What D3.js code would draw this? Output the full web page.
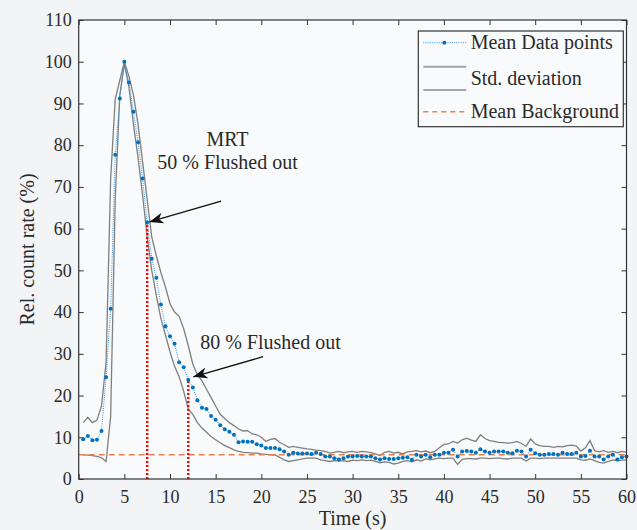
<!DOCTYPE html>
<html>
<head>
<meta charset="utf-8">
<script src="https://cdn.jsdelivr.net/npm/d3@7"></script>
<style>
  html, body { margin: 0; padding: 0; background: #f3f4f5; }
  svg { display: block; font-family: "Liberation Serif", "DejaVu Serif", serif; }
</style>
</head>
<body>
<div id="viz"></div>
<script>
// sampling times (s)
const times = [
  0.5, 1, 1.5, 2, 2.5, 3, 3.5, 4, 4.5, 5,
  5.5, 6, 6.5, 7, 7.5, 8, 8.5, 9, 9.5, 10,
  10.5, 11, 11.5, 12, 12.5, 13, 13.5, 14, 14.5, 15,
  15.5, 16, 16.5, 17, 17.5, 18, 18.5, 19, 19.5, 20,
  20.5, 21, 21.5, 22, 22.5, 23, 23.5, 24, 24.5, 25,
  25.5, 26, 26.5, 27, 27.5, 28, 28.5, 29, 29.5, 30,
  30.5, 31, 31.5, 32, 32.5, 33, 33.5, 34, 34.5, 35,
  35.5, 36, 36.5, 37, 37.5, 38, 38.5, 39, 39.5, 40,
  40.5, 41, 41.5, 42, 42.5, 43, 43.5, 44, 44.5, 45,
  45.5, 46, 46.5, 47, 47.5, 48, 48.5, 49, 49.5, 50,
  50.5, 51, 51.5, 52, 52.5, 53, 53.5, 54, 54.5, 55,
  55.5, 56, 56.5, 57, 57.5, 58, 58.5, 59, 59.5, 60
];

// mean relative count rate (%)
const meanRate = [
  9.5, 10.3, 9.3, 9.4, 11.5, 24.4, 40.8, 77.7, 91.2, 100,
  95, 88, 80.7, 72, 61.5, 52.8, 48.2, 41.8, 36.6, 34.2,
  32.4, 28.0, 26.8, 23.8, 21.9, 18.9, 17.1, 16.8, 15.1, 14.2,
  12.9, 11.9, 11.3, 10.6, 8.8, 9.0, 8.9, 8.9, 8.3, 8.0,
  7.4, 7.4, 7.4, 7.1, 6.6, 5.8, 6.3, 6.1, 6.1, 6.1,
  6.0, 6.3, 6.0, 5.4, 5.4, 5.0, 4.7, 5.0, 5.4, 5.4,
  5.5, 5.4, 5.4, 5.4, 5.0, 4.7, 5.0, 4.8, 4.8, 5.0,
  5.1, 5.2, 4.6, 5.8, 5.4, 5.8, 5.2, 5.8, 5.8, 6.3,
  6.3, 7.0, 5.4, 6.6, 6.7, 6.6, 6.3, 7.1, 6.6, 6.3,
  6.6, 6.6, 6.6, 6.3, 6.2, 6.8, 6.6, 5.4, 7.0, 6.2,
  5.8, 5.8, 6.0, 6.0, 5.8, 6.3, 6.0, 6.0, 6.3, 5.4,
  5.5, 6.8, 5.4, 5.4, 4.7, 5.4, 5.8, 4.7, 5.2, 5.4
];

// mean + std
const upperStd = [
  13.5, 14.8, 13.5, 14.1, 17.5, 28, 72, 91, 95.5, 100,
  96.5, 92, 85, 76, 67, 58, 53.5, 49.5, 46, 42,
  40, 39, 36, 32, 27.5, 25, 23.5, 21.5, 19.5, 17.5,
  15.5, 14.5, 13.5, 12.8, 12, 11.5, 11.6, 10.8, 10.6, 10,
  9.0, 9.5, 9.7, 8.8, 8.2, 7.6, 7.8, 7.6, 7.4, 7.2,
  7.1, 6.9, 6.8, 6.6, 6.2, 6.4, 6.6, 6.3, 6.5, 6.6,
  6.4, 6.6, 6.5, 6.3, 6.0, 5.6, 6.4, 6.6, 6.2, 6.4,
  6.0, 6.5, 6.6, 6.8, 6.5, 6.7, 6.3, 6.6, 7.5, 8.3,
  8.4, 9.0, 8.6, 9.4, 9.8, 9.3, 9.0, 10.6, 9.7, 9.2,
  9.0, 8.8, 8.7, 8.6, 8.7, 9.0, 8.5, 7.8, 9.6, 8.4,
  8.0, 7.8, 7.8, 7.6, 7.8, 7.7, 8.0, 8.1, 7.9, 6.7,
  7.5, 9.2, 6.8, 6.5, 6.8, 6.4, 6.6, 6.3, 6.6, 6.4
];

// mean - std
const lowerStd = [
  5.8, 5.7, 5.6, 5.4, 5.1, 4.2, 15, 67, 92, 99.5,
  94, 85, 77, 68, 58, 50, 44, 38.5, 34.5, 30.5,
  27, 24.5, 21, 16.8, 15.5, 13.5, 12.2, 11.2, 10.2, 9.4,
  8.7, 8.0, 7.5, 7.0, 6.6, 6.4, 6.3, 6.2, 6.2, 6.0,
  5.9, 5.8, 5.75, 5.2, 4.6, 4.2, 4.4, 4.6, 4.8, 5.0,
  5.0, 5.0, 4.6, 4.4, 4.2, 4.4, 4.3, 4.4, 4.2, 4.5,
  4.4, 4.6, 4.4, 4.5, 4.2, 3.9, 4.1, 4.0, 3.6, 3.8,
  4.2, 4.4, 4.1, 4.6, 4.3, 4.8, 4.6, 4.8, 5.0, 4.9,
  5.0, 5.0, 3.5, 4.7, 4.9, 4.9, 4.8, 5.0, 5.0, 4.9,
  5.0, 5.0, 4.9, 4.8, 5.0, 5.0, 5.0, 4.3, 5.0, 5.0,
  4.9, 5.0, 5.0, 5.0, 5.0, 5.0, 5.0, 5.0, 5.0, 4.6,
  4.5, 4.8, 4.4, 4.0, 3.8, 4.2, 4.6, 4.4, 4.5, 4.6
];

const meanBackground = 5.8;
const xTicks = [0, 5, 10, 15, 20, 25, 30, 35, 40, 45, 50, 55, 60];
const yTicks = [0, 10, 20, 30, 40, 50, 60, 70, 80, 90, 100, 110];

// flushed-out markers: time and level
const markers = [
  { t: 7.5, v: 61.5 },
  { t: 12, v: 23.8 }
];

const annotations = [
  { lines: ["MRT", "50 % Flushed out"], tx: 16.3, ty: 74.3, from: [15.6, 66.6], to: [7.75, 61.6] },
  { lines: ["80 % Flushed out"], tx: 21.0, ty: 31.2, from: [20.2, 29.3], to: [12.55, 24.5] }
];

const legendItems = ["Mean Data points", "Std. deviation", "Mean Background"];

const W = 637, H = 530;
const margin = { top: 20, right: 10.5, bottom: 51, left: 78.7 };

const svg = d3.select("#viz").append("svg")
  .attr("width", W)
  .attr("height", H);

const x = d3.scaleLinear().domain([0, 60]).range([margin.left, W - margin.right]);
const y = d3.scaleLinear().domain([0, 110]).range([H - margin.bottom, margin.top]);

const blue = "#0072bd";
const grey = "#7f7f7f";
const orange = "#ee7f50";
const axisColor = "#333";

svg.append("rect")
  .attr("x", x(0)).attr("y", y(110))
  .attr("width", x(60) - x(0)).attr("height", y(0) - y(110))
  .attr("fill", "#f9fafb");

// axes, ticks point inward
const fontTick = 18;

const gx = svg.append("g")
  .attr("transform", `translate(0,${y(0)})`)
  .call(d3.axisBottom(x).tickValues(xTicks).tickSizeInner(-5).tickSizeOuter(0).tickPadding(11));
const gxTop = svg.append("g")
  .attr("transform", `translate(0,${y(110)})`)
  .call(d3.axisTop(x).tickValues(xTicks).tickSizeInner(-5).tickSizeOuter(0).tickFormat(""));
const gy = svg.append("g")
  .attr("transform", `translate(${x(0)},0)`)
  .call(d3.axisLeft(y).tickValues(yTicks).tickSizeInner(-5).tickSizeOuter(0).tickPadding(7));
const gyRight = svg.append("g")
  .attr("transform", `translate(${x(60)},0)`)
  .call(d3.axisRight(y).tickValues(yTicks).tickSizeInner(-5).tickSizeOuter(0).tickFormat(""));

[gx, gxTop, gy, gyRight].forEach(g => {
  g.select(".domain").remove();
  g.selectAll("line").attr("stroke", axisColor).attr("stroke-width", 1);
  g.selectAll("text")
    .attr("fill", "#2a2a2a")
    .style("font-size", fontTick + "px")
    .style("font-family", "'Liberation Serif', serif");
});

// std deviation lines
const lineOf = arr => d3.line()
  .x((d, i) => x(times[i]))
  .y(d => y(d))(arr);

svg.append("path")
  .attr("d", lineOf(upperStd))
  .attr("fill", "none")
  .attr("stroke", grey)
  .attr("stroke-width", 1.3);

svg.append("path")
  .attr("d", lineOf(lowerStd))
  .attr("fill", "none")
  .attr("stroke", grey)
  .attr("stroke-width", 1.3);

// mean background
svg.append("line")
  .attr("x1", x(0)).attr("x2", x(60))
  .attr("y1", y(meanBackground)).attr("y2", y(meanBackground))
  .attr("stroke", orange)
  .attr("stroke-width", 1.4)
  .attr("stroke-dasharray", "6,4");

// red dotted flushed-out lines
svg.selectAll("line.flush")
  .data(markers)
  .join("line")
  .attr("class", "flush")
  .attr("x1", d => x(d.t)).attr("x2", d => x(d.t))
  .attr("y1", y(0)).attr("y2", d => y(d.v))
  .attr("stroke", "#ff0000")
  .attr("stroke-width", 2.4)
  .attr("stroke-dasharray", "2,2");

// mean data
svg.append("path")
  .attr("d", lineOf(meanRate))
  .attr("fill", "none")
  .attr("stroke", "#3d95dc")
  .attr("stroke-width", 1)
  .attr("stroke-dasharray", "1,1.2");

svg.selectAll("circle.pt")
  .data(meanRate)
  .join("circle")
  .attr("class", "pt")
  .attr("cx", (d, i) => x(times[i]))
  .attr("cy", d => y(d))
  .attr("r", 2)
  .attr("fill", blue);

// frame
svg.append("rect")
  .attr("x", x(0)).attr("y", y(110))
  .attr("width", x(60) - x(0)).attr("height", y(0) - y(110))
  .attr("fill", "none")
  .attr("stroke", axisColor)
  .attr("stroke-width", 1.2);

// axis labels
svg.append("text")
  .attr("x", (x(0) + x(60)) / 2)
  .attr("y", 525)
  .attr("text-anchor", "middle")
  .attr("fill", "#2a2a2a")
  .style("font-size", "20px")
  .text("Time (s)");

svg.append("text")
  .attr("transform", `translate(34,${(y(0) + y(110)) / 2}) rotate(-90)`)
  .attr("text-anchor", "middle")
  .attr("fill", "#2a2a2a")
  .style("font-size", "20px")
  .text("Rel. count rate (%)");

// arrows and annotation text
svg.append("defs").append("marker")
  .attr("id", "arrowhead")
  .attr("markerUnits", "userSpaceOnUse")
  .attr("viewBox", "-14 -6 16 12")
  .attr("markerWidth", 16)
  .attr("markerHeight", 12)
  .attr("refX", 0)
  .attr("refY", 0)
  .attr("orient", "auto")
  .append("path")
  .attr("d", "M0,0 L-14,-5.5 L-10,0 L-14,5.5 Z")
  .attr("fill", "#111");

annotations.forEach(a => {
  svg.append("line")
    .attr("x1", x(a.from[0])).attr("y1", y(a.from[1]))
    .attr("x2", x(a.to[0])).attr("y2", y(a.to[1]))
    .attr("stroke", "#111")
    .attr("stroke-width", 1.3)
    .attr("marker-end", "url(#arrowhead)");

  const t = svg.append("text")
    .attr("text-anchor", "middle")
    .attr("fill", "#2a2a2a")
    .style("font-size", "20px");
  const n = a.lines.length;
  a.lines.forEach((s, i) => {
    t.append("tspan")
      .attr("x", x(a.tx))
      .attr("y", y(a.ty) - (n - 1 - i) * 22.5)
      .text(s);
  });
});

// legend
const lg = svg.append("g").attr("transform", "translate(418.3,31)");
lg.append("rect")
  .attr("width", 205).attr("height", 95.7)
  .attr("fill", "#f9fafb")
  .attr("stroke", axisColor)
  .attr("stroke-width", 1.2);

const rowY = [11.7, 47.3, 80.7];

lg.append("line")
  .attr("x1", 5).attr("x2", 48).attr("y1", rowY[0]).attr("y2", rowY[0])
  .attr("stroke", "#3d95dc").attr("stroke-width", 1).attr("stroke-dasharray", "1,1.2");
lg.append("circle").attr("cx", 26).attr("cy", rowY[0]).attr("r", 2).attr("fill", blue);

[rowY[1] - 11.6, rowY[1] + 11.6].forEach(yy => {
  lg.append("line")
    .attr("x1", 5).attr("x2", 48).attr("y1", yy).attr("y2", yy)
    .attr("stroke", "#a6a6a6").attr("stroke-width", 2);
});

lg.append("line")
  .attr("x1", 5).attr("x2", 47).attr("y1", rowY[2]).attr("y2", rowY[2])
  .attr("stroke", orange).attr("stroke-width", 1.4).attr("stroke-dasharray", "5,4");

lg.selectAll("text")
  .data(legendItems)
  .join("text")
  .attr("x", 52.4)
  .attr("y", (d, i) => rowY[i] + 6.6)
  .attr("fill", "#2a2a2a")
  .style("font-size", "20px")
  .text(d => d);
</script>
</body>
</html>
